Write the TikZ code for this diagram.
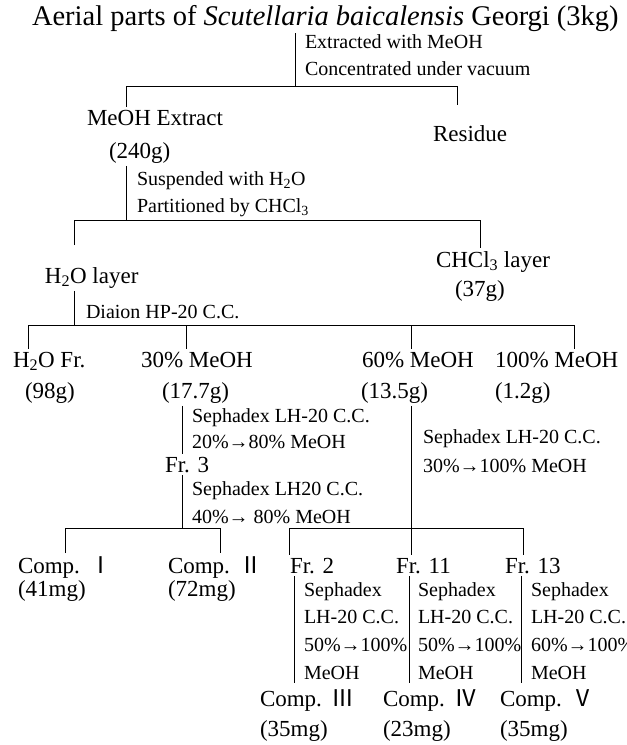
\documentclass[tikz,border=0pt]{standalone}
\usepackage{fontspec}
\setmainfont{Liberation Serif}
\newfontfamily\cjk{Noto Sans CJK KR}

\tikzset{
  head/.style={anchor=base west, inner sep=0pt, outer sep=2pt, font=\fontsize{28.5}{28.5}\selectfont},
  big/.style={anchor=base west, inner sep=0pt, outer sep=3pt, font=\fontsize{23}{23}\selectfont},
  note/.style={anchor=base west, inner sep=0pt, outer sep=0pt, font=\fontsize{20}{20}\selectfont},
  line/.style={line width=1pt}
}
\newcommand{\compnum}[1]{Comp. \hspace{.1em}{\cjk #1}}

\begin{document}
\begin{tikzpicture}[x=1pt,y=-1pt]
    \useasboundingbox (0,0) rectangle (627,745);
    % plant and first extraction
    \node[head] (top) at (30,25) {Aerial parts of \textit{Scutellaria baicalensis} Georgi (3kg)};
    \node[note] (ext1) at (305,48) {Extracted with MeOH};
    \node[note] (ext2) at (305,75) {Concentrated under vacuum};
    \node[big] (meoh) at (84,125) {MeOH Extract};
    \node[big] (meohw) at (106,158) {(240g)};
    \node[big] (res) at (430,141) {Residue};
    % partition
    \node[note] (sus1) at (137,185) {Suspended with H\textsubscript{2}O};
    \node[note] (sus2) at (137,212) {Partitioned by CHCl\textsubscript{3}};
    \node[big] (wat) at (42,283) {H\textsubscript{2}O layer};
    \node[big] (chl) at (433,267) {CHCl\textsubscript{3} layer};
    \node[big] (chlw) at (452,296) {(37g)};
    \node[note] (dia) at (86,318) {Diaion HP-20 C.C.};
    % fractions
    \node[big] (fa) at (10,367) {H\textsubscript{2}O Fr.};
    \node[big] (fb) at (138,367) {30\% MeOH};
    \node[big] (fc) at (359,367) {60\% MeOH};
    \node[big] (fd) at (492,367) {100\% MeOH};
    \node[big] (faw) at (22,398) {(98g)};
    \node[big] (fbw) at (159,398) {(17.7g)};
    \node[big] (fcw) at (358,398) {(13.5g)};
    \node[big] (fdw) at (492,398) {(1.2g)};
    % columns
    \node[note] (sa1) at (192,422) {Sephadex LH-20 C.C.};
    \node[note] (sa2) at (192,448) {20\%→80\% MeOH};
    \node[big] (f3) at (162,472) {Fr. 3};
    \node[note] (sb1) at (192,495) {Sephadex LH20 C.C.};
    \node[note] (sb2) at (192,523) {40\%→ 80\% MeOH};
    \node[note] (sc1) at (423,443) {Sephadex LH-20 C.C.};
    \node[note] (sc2) at (423,472) {30\%→100\% MeOH};
    \node[big] (ca) at (15,573) {\compnum{Ⅰ}};
    \node[big] (caw) at (15,596) {(41mg)};
    \node[big] (cb) at (165,573) {\compnum{Ⅱ}};
    \node[big] (cbw) at (165,596) {(72mg)};
    \node[big] (f2) at (287,573) {Fr. 2};
    \node[big] (f11) at (393,573) {Fr. 11};
    \node[big] (f13) at (502,573) {Fr. 13};
    \node[note] (ga1) at (304,596) {Sephadex};
    \node[note] (ga2) at (304,623) {LH-20 C.C.};
    \node[note] (ga3) at (304,651) {50\%→100\%};
    \node[note] (ga4) at (304,679) {MeOH};
    \node[note] (gb1) at (418,596) {Sephadex};
    \node[note] (gb2) at (418,623) {LH-20 C.C.};
    \node[note] (gb3) at (418,651) {50\%→100\%};
    \node[note] (gb4) at (418,679) {MeOH};
    \node[note] (gc1) at (531,596) {Sephadex};
    \node[note] (gc2) at (531,623) {LH-20 C.C.};
    \node[note] (gc3) at (531,651) {60\%→100\%};
    \node[note] (gc4) at (531,679) {MeOH};
    \node[big] (cc) at (257,706) {\compnum{Ⅲ}};
    \node[big] (ccw) at (257,736) {(35mg)};
    \node[big] (cd) at (380,706) {\compnum{Ⅳ}};
    \node[big] (cdw) at (380,736) {(23mg)};
    \node[big] (ce) at (497,706) {\compnum{Ⅴ}};
    \node[big] (cew) at (497,736) {(35mg)};
    % tree lines
    \coordinate (k1) at (295,86);
    \coordinate (k1l) at (126,86);
    \coordinate (k1r) at (457,86);
    \coordinate (e1r) at (457,105);
    \draw[line] (k1 |- top.south) -- (k1);
    \draw[line] (k1l |- meoh.north) -- (k1l) -- (k1r) -- (e1r);
    \coordinate (k2) at (126,220);
    \coordinate (k2l) at (74,220);
    \coordinate (k2r) at (480,220);
    \coordinate (e2l) at (74,245);
    \draw[line] (k2 |- meohw.south) -- (k2);
    \draw[line] (e2l) -- (k2l) -- (k2r) -- (k2r |- chl.north);
    \coordinate (k3) at (74,325);
    \coordinate (k3a) at (28,325);
    \coordinate (k3b) at (186,325);
    \coordinate (k3c) at (411,325);
    \coordinate (k3d) at (574,325);
    \draw[line] (k3 |- wat.south) -- (k3);
    \draw[line] (k3a |- fa.north) -- (k3a) -- (k3d) -- (k3d |- fd.north);
    \draw[line] (k3b) -- (k3b |- fb.north);
    \draw[line] (k3c) -- (k3c |- fc.north);
    \coordinate (k4) at (182,528);
    \coordinate (k4l) at (65,528);
    \coordinate (k4r) at (220,528);
    \draw[line] (k4 |- fbw.south) -- (k4 |- f3.north);
    \draw[line] (k4 |- f3.south) -- (k4);
    \draw[line] (k4l |- ca.north) -- (k4l) -- (k4r) -- (k4r |- cb.north);
    \coordinate (k5) at (411,528);
    \coordinate (k5l) at (289,528);
    \coordinate (k5r) at (523,528);
    \draw[line] (k5 |- fcw.south) -- (k5 |- f11.north);
    \draw[line] (k5l |- f2.north) -- (k5l) -- (k5r) -- (k5r |- f13.north);
    \coordinate (e6a) at (294,683);
    \coordinate (e6b) at (409,683);
    \coordinate (e6c) at (521,683);
    \draw[line] (e6a |- f2.south) -- (e6a);
    \draw[line] (e6b |- f11.south) -- (e6b);
    \draw[line] (e6c |- f13.south) -- (e6c);
\end{tikzpicture}
\end{document}
